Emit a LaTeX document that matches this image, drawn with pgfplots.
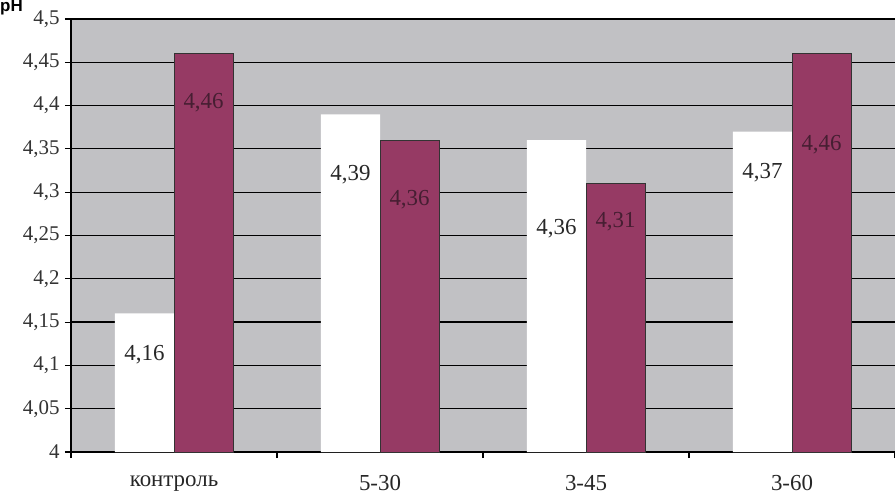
\documentclass[border=0pt]{standalone}
\usepackage{pgfplots}
\pgfplotsset{compat=1.18}
\usepackage{fontspec}
\setmainfont{Liberation Serif}
\newfontfamily\sansfont{Liberation Sans}
\definecolor{plotgray}{RGB}{193,193,196}
\definecolor{maroon}{RGB}{150,58,100}
\definecolor{lblmaroon}{RGB}{70,30,50}
\definecolor{lblwhite}{RGB}{40,40,40}
\begin{document}
\begin{tikzpicture}
\begin{axis}[
  name=ax,
  scale only axis,
  width=824bp, height=433bp,
  xmin=-0.5, xmax=3.5,
  ymin=4, ymax=4.5,
  axis lines=left,
  axis line style={-, black, line width=1.2pt},
  axis background/.style={fill=plotgray},
  ybar, bar width=0.287, 
  xtick={0,1,2,3},
  xticklabels={контроль,5-30,3-45,3-60},
  major x tick style={draw=none},
  minor xtick={-0.5,0.5,1.5,2.5,3.5},
  minor x tick style={black, line width=1.2pt},
  minor tick length=6bp,
  ytick distance=0.05,
  major y tick style={black, line width=1.2pt},
  major tick length=6bp,
  tick align=outside,
  ymajorgrids,
  grid style={black, line width=1.2pt},
  extra y ticks={4.15},
  extra y tick labels={},
  extra y tick style={grid style={black, line width=2.6pt}, major tick style={black, line width=2.6pt}},
  /pgf/number format/assume math mode=true,
  /pgf/number format/use comma,
  /pgf/number format/fixed,
  /pgf/number format/precision=2,
  yticklabel style={font=\fontsize{21}{23}\selectfont\color{black!80}, xshift=-2bp},
  xticklabel style={font=\fontsize{23}{25}\selectfont\color{black!85}, yshift=-14bp},
  clip=false,
]
\addplot[fill=white, draw=none, bar shift=-0.1435] coordinates {(0,4.16) (1,4.39) (2,4.36) (3,4.37)};
\addplot[fill=maroon, draw=black!80, line width=0.8pt, bar shift=0.1435] coordinates {(0,4.46) (1,4.36) (2,4.31) (3,4.46)};
\node[lblwhite, font=\fontsize{23}{25}\selectfont] at (axis cs:-0.1435,4.112) {4,16};
\node[lblwhite, font=\fontsize{23}{25}\selectfont] at (axis cs:0.8565,4.320) {4,39};
\node[lblwhite, font=\fontsize{23}{25}\selectfont] at (axis cs:1.8565,4.2575) {4,36};
\node[lblwhite, font=\fontsize{23}{25}\selectfont] at (axis cs:2.8565,4.323) {4,37};
\node[lblmaroon, font=\fontsize{23}{25}\selectfont] at (axis cs:0.1435,4.403) {4,46};
\node[lblmaroon, font=\fontsize{23}{25}\selectfont] at (axis cs:1.1435,4.291) {4,36};
\node[lblmaroon, font=\fontsize{23}{25}\selectfont] at (axis cs:2.1435,4.266) {4,31};
\node[lblmaroon, font=\fontsize{23}{25}\selectfont] at (axis cs:3.1435,4.3545) {4,46};
\end{axis}
\node[font=\sansfont\bfseries\fontsize{17}{18}\selectfont, anchor=north west, inner sep=0pt] at ([xshift=-71bp,yshift=19bp]ax.north west) {pH};
\pgfresetboundingbox
\path[use as bounding box] ([xshift=-71bp,yshift=-44bp]ax.south west) rectangle ([yshift=19bp]ax.north east);
\end{tikzpicture}
\end{document}
